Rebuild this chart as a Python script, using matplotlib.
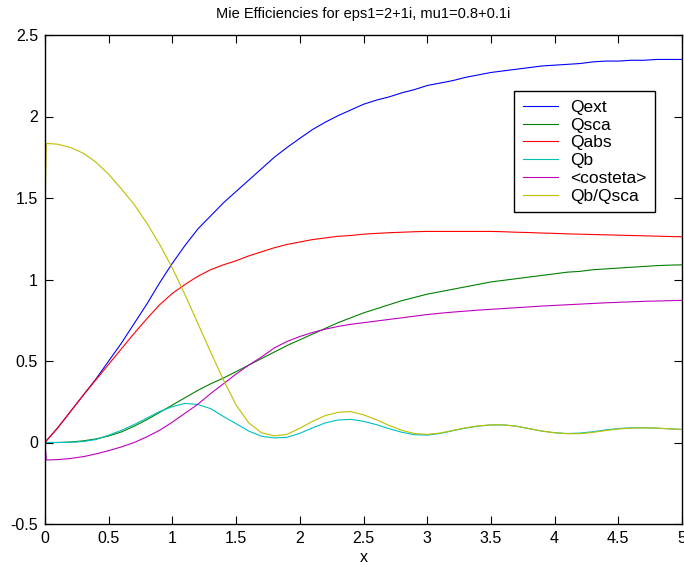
import numpy as np
import matplotlib
matplotlib.use("Agg")
import matplotlib.pyplot as plt

plt.rcParams['font.family'] = ['Liberation Sans', 'DejaVu Sans']

# size parameter x (first two points are the x=0 jump)
x = [0.0, 0.01] + [round(0.1 * i, 1) for i in range(1, 51)]

qext = [0.0, 0.01,
        0.09, 0.19, 0.29, 0.39, 0.50, 0.61, 0.73, 0.85, 0.98, 1.10,
        1.21, 1.31, 1.39, 1.47, 1.54, 1.61, 1.68, 1.75, 1.81, 1.866,
        1.92, 1.965, 2.005, 2.04, 2.075, 2.10, 2.12, 2.145, 2.165, 2.19,
        2.205, 2.22, 2.24, 2.255, 2.27, 2.28, 2.29, 2.30, 2.31, 2.315,
        2.32, 2.325, 2.335, 2.34, 2.34, 2.345, 2.345, 2.35, 2.35, 2.35]

qsca = [0.0, 0.0,
        0.0, 0.003, 0.01, 0.022, 0.04, 0.065, 0.10, 0.14, 0.185, 0.23,
        0.275, 0.32, 0.36, 0.395, 0.435, 0.475, 0.515, 0.555, 0.595, 0.63,
        0.665, 0.70, 0.735, 0.765, 0.795, 0.82, 0.845, 0.87, 0.89, 0.91,
        0.925, 0.94, 0.955, 0.97, 0.985, 0.995, 1.005, 1.015, 1.025, 1.035,
        1.045, 1.05, 1.06, 1.065, 1.07, 1.075, 1.08, 1.085, 1.088, 1.09]

qabs = [0.0, 0.01,
        0.09, 0.19, 0.29, 0.385, 0.48, 0.575, 0.67, 0.76, 0.845, 0.915,
        0.97, 1.02, 1.06, 1.09, 1.115, 1.145, 1.17, 1.195, 1.215, 1.23,
        1.245, 1.255, 1.265, 1.27, 1.278, 1.283, 1.287, 1.29, 1.293, 1.295,
        1.295, 1.295, 1.295, 1.295, 1.295, 1.293, 1.29, 1.288, 1.285, 1.283,
        1.28, 1.278, 1.276, 1.274, 1.272, 1.27, 1.268, 1.266, 1.264, 1.262]

qb = [0.0, 0.0,
      0.0, 0.001, 0.006, 0.018, 0.045, 0.075, 0.11, 0.15, 0.19, 0.22,
      0.24, 0.233, 0.208, 0.16, 0.115, 0.07, 0.038, 0.028, 0.032, 0.056,
      0.09, 0.12, 0.138, 0.142, 0.13, 0.11, 0.085, 0.063, 0.048, 0.045,
      0.055, 0.072, 0.088, 0.10, 0.108, 0.108, 0.10, 0.085, 0.07, 0.06,
      0.055, 0.058, 0.066, 0.077, 0.086, 0.09, 0.09, 0.088, 0.084, 0.08]

costeta = [0.0, -0.107,
           -0.105, -0.098, -0.087, -0.07, -0.05, -0.027, 0.0, 0.035, 0.075, 0.125,
           0.18, 0.235, 0.30, 0.36, 0.42, 0.475, 0.525, 0.58, 0.62, 0.65,
           0.675, 0.695, 0.712, 0.725, 0.735, 0.745, 0.755, 0.765, 0.775, 0.785,
           0.793, 0.80, 0.806, 0.812, 0.817, 0.822, 0.827, 0.832, 0.837, 0.841,
           0.845, 0.849, 0.853, 0.857, 0.86, 0.863, 0.866, 0.868, 0.87, 0.872]

qb_qsca = [1.4, 1.835,
           1.83, 1.81, 1.775, 1.72, 1.645, 1.555, 1.46, 1.345, 1.215, 1.07,
           0.905, 0.73, 0.555, 0.385, 0.23, 0.12, 0.06, 0.04, 0.05, 0.087,
           0.13, 0.165, 0.185, 0.19, 0.17, 0.14, 0.105, 0.075, 0.055, 0.05,
           0.058, 0.074, 0.09, 0.102, 0.108, 0.108, 0.10, 0.085, 0.07, 0.06,
           0.054, 0.054, 0.062, 0.073, 0.083, 0.088, 0.09, 0.088, 0.084, 0.08]

labels = ['Qext', 'Qsca', 'Qabs', 'Qb', '<costeta>', 'Qb/Qsca']
colors = ['#0000ff', '#008000', '#ff0000', '#00bfbf', '#bf00bf', '#bfbf00']

xticks = [0, 0.5, 1, 1.5, 2, 2.5, 3, 3.5, 4, 4.5, 5]
xticklabels = ['0', '0.5', '1', '1.5', '2', '2.5', '3', '3.5', '4', '4.5', '5']
yticks = [-0.5, 0, 0.5, 1, 1.5, 2, 2.5]
yticklabels = ['-0.5', '0', '0.5', '1', '1.5', '2', '2.5']

fig = plt.figure(figsize=(6.84, 5.67), dpi=100)
ax = fig.add_axes([45 / 684, 1 - 524 / 567, 637 / 684, 489 / 567])

series = [qext, qsca, qabs, qb, costeta, qb_qsca]
for y, lab, c in zip(series, labels, colors):
    ax.plot(x, y, color=c, lw=0.8, label=lab)

ax.set_xlim(0, 5)
ax.set_ylim(-0.5, 2.5)
ax.set_xticks(xticks)
ax.set_xticklabels(xticklabels)
ax.set_yticks(yticks)
ax.set_yticklabels(yticklabels)
ax.tick_params(direction='in', top=True, right=True, length=6, width=0.8,
               labelsize=11.5, pad=5)
for s in ax.spines.values():
    s.set_linewidth(1.0)

ax.set_xlabel('x', fontsize=11.5, labelpad=3)
ax.set_title('Mie Efficiencies for eps1=2+1i, mu1=0.8+0.1i', fontsize=10.5, pad=12)

leg = ax.legend(loc='upper right', bbox_to_anchor=((655 - 45) / 637, (524 - 91) / 489),
                borderaxespad=0, fontsize=12.5, fancybox=False, framealpha=1,
                handlelength=2.0, labelspacing=0.15, borderpad=0.5, handletextpad=0.7)
leg.get_frame().set_edgecolor('black')
leg.get_frame().set_linewidth(1.0)

fig.savefig('out.png', dpi=100)
